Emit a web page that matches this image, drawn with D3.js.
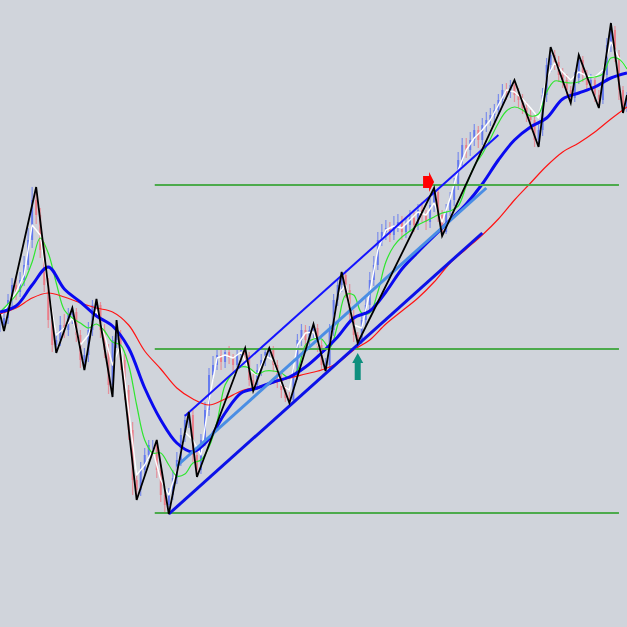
<html lang="en">
<head>
    <title>Trend channel</title>
    <meta charset="utf-8">
    <script src="https://d3js.org/d3.v7.min.js"></script>
    <style>
        html, body { margin: 0; padding: 0; background: #d0d4db; overflow: hidden; }
        svg { display: block; }
    </style>
</head>
<body>
<svg class="chart"></svg>
<script>
    'use strict';

    // closes, one per bar (bar 0 .. 156)
    var closes = [
        675, 682, 700, 715, 708, 720, 735, 760, 800, 785, 750, 715, 680, 655, 660, 675, 670, 685, 688, 665,
        640, 645, 670, 695, 695, 670, 650, 615, 660, 665, 640, 610, 570, 520, 510, 530, 545, 555, 555, 530,
        505, 495, 505, 522, 540, 565, 580, 585, 545, 530, 560, 590, 625, 635, 645, 638, 648, 642, 635, 645,
        650, 645, 620, 615, 630, 640, 648, 650, 635, 620, 610, 602, 600, 625, 660, 670, 660, 670, 672, 655,
        635, 635, 670, 700, 715, 725, 710, 685, 665, 660, 680, 695, 720, 735, 760, 768, 772, 765, 775, 778,
        768, 775, 782, 775, 790, 785, 778, 795, 808, 785, 768, 790, 800, 815, 840, 855, 850, 860, 870, 860,
        875, 880, 885, 890, 900, 910, 908, 915, 905, 900, 892, 885, 880, 860, 870, 905, 935, 945, 938, 925,
        920, 910, 902, 922, 940, 925, 915, 920, 905, 900, 925, 955, 970, 945, 910, 892, 900
    ];
    var highs = [
        684, 690, 706, 722, 724, 728, 744, 772, 813, 808, 792, 758, 722, 688, 668, 684, 686, 692, 694, 692,
        670, 652, 678, 700, 701, 698, 676, 656, 664, 680, 670, 646, 615, 578, 526, 538, 552, 560, 560, 560,
        536, 510, 512, 530, 548, 572, 586, 588, 590, 550, 566, 598, 632, 644, 652, 650, 652, 654, 646, 650,
        652, 652, 648, 626, 636, 646, 651, 652, 654, 640, 626, 614, 608, 632, 666, 676, 675, 674, 676, 676,
        660, 642, 676, 706, 722, 728, 730, 716, 690, 668, 686, 702, 728, 744, 768, 776, 780, 778, 784, 786,
        784, 782, 790, 788, 796, 798, 790, 802, 812, 810, 790, 796, 808, 822, 848, 862, 862, 868, 876, 874,
        882, 888, 892, 896, 906, 916, 917, 920, 920, 912, 906, 898, 890, 884, 876, 912, 942, 953, 950, 944,
        932, 926, 914, 928, 945, 944, 930, 926, 924, 910, 932, 962, 977, 974, 950, 914, 908
    ];
    var lows = [
        668, 670, 676, 694, 700, 703, 714, 730, 752, 776, 742, 708, 672, 648, 647, 654, 662, 664, 676, 658,
        632, 630, 638, 664, 686, 662, 642, 606, 603, 652, 630, 600, 560, 505, 500, 504, 524, 540, 546, 522,
        498, 488, 486, 500, 516, 534, 558, 572, 538, 523, 526, 554, 584, 620, 630, 630, 632, 636, 628, 630,
        638, 638, 614, 609, 610, 624, 634, 641, 628, 612, 602, 598, 597, 598, 620, 654, 652, 655, 662, 648,
        630, 629, 630, 664, 694, 708, 702, 678, 658, 657, 656, 674, 690, 714, 730, 754, 760, 758, 760, 768,
        760, 762, 768, 768, 770, 778, 770, 772, 788, 778, 764, 766, 784, 794, 810, 834, 842, 844, 854, 852,
        855, 868, 874, 878, 884, 894, 900, 902, 898, 892, 886, 878, 870, 853, 853, 864, 898, 928, 930, 918,
        912, 902, 897, 898, 916, 918, 908, 910, 898, 892, 896, 918, 948, 938, 900, 887, 888
    ];

    // moving averages, sampled every few bars
    var slowStep = 4;
    var redMA = [
        686, 692, 702, 707, 703, 697, 692, 688, 675, 649, 631, 612, 601, 595, 601, 609, 613, 617, 622, 626,
        630, 637, 650, 660, 676, 689, 702, 718, 737, 751, 765, 781, 800, 817, 834, 848, 857, 868, 881, 893
    ];
    var blueMA = [
        688, 694, 715, 733, 711, 698, 684, 674, 652, 612, 580, 557, 548, 561, 587, 607, 612, 618, 623, 633,
        647, 663, 682, 689, 708, 731, 748, 764, 780, 796, 816, 840, 860, 873, 882, 901, 907, 913, 922, 927
    ];

    var fastStep = 2;
    var greenMA = [
        688, 696, 705, 718, 738, 762, 747, 717, 690, 682, 677, 672, 676, 669, 658, 655, 635, 595, 560, 547,
        547, 535, 524, 526, 537, 540, 553, 578, 615, 627, 633, 632, 626, 629, 629, 627, 622, 630, 655, 661,
        661, 652, 675, 705, 705, 687, 687, 708, 738, 754, 763, 769, 775, 779, 783, 787, 789, 794, 814, 834,
        846, 861, 877, 889, 893, 890, 884, 886, 908, 919, 918, 917, 918, 922, 923, 926, 942, 941, 931
    ];
    var whiteMA = [
        682, 695, 708, 725, 775, 765, 710, 665, 672, 682, 655, 665, 690, 665, 635, 655, 590, 525, 535, 550,
        520, 505, 530, 568, 560, 545, 600, 642, 645, 642, 648, 630, 625, 644, 640, 615, 610, 655, 667, 668,
        645, 655, 705, 715, 675, 672, 708, 750, 770, 774, 772, 780, 788, 785, 797, 778, 802, 830, 850, 862,
        870, 880, 895, 910, 908, 901, 892, 882, 922, 937, 928, 920, 928, 924, 923, 930, 958, 942, 932
    ];

    // zigzag turning points [bar, price]
    var zigzag = [
        [0, 686], [1, 669], [9, 813], [14, 647], [18, 692], [21, 630], [24, 701], [28, 603], [29, 680],
        [34, 500], [39, 560], [42, 486], [47, 588], [49, 523], [61, 652], [63, 609], [67, 652], [72, 597],
        [78, 676], [81, 629], [85, 728], [89, 657], [108, 812], [110, 764], [128, 920], [134, 853],
        [137, 953], [142, 897], [144, 945], [149, 892], [152, 977], [155, 887], [156, 905]
    ];

    // channel lines [bar, price]
    var channelLower = [[42, 486], [120, 767]];
    var channelMid = [[44, 534], [121, 812]];
    var channelUpper = [[46, 584], [124, 865]];

    // horizontal levels
    var levels = [815, 651, 487];
    var levelSpan = [38.5, 154];

    // signals [bar, price]
    var sellSignal = [108, 818];
    var buySignal = [89, 647];

    var width = 627, height = 627;

    var svg = d3.select(".chart")
        .attr("width", width)
        .attr("height", height);

    svg.append("rect")
        .attr("width", width)
        .attr("height", height)
        .attr("fill", "#d0d4db");

    var x = d3.scaleLinear().domain([0, closes.length - 1]).range([0, width]);
    var y = d3.scaleLinear().domain([373, 1000]).range([height, 0]);

    // candles: open = previous close
    var bars = closes.map(function(c, i) {
        return {i: i, open: i > 0 ? closes[i - 1] : c, close: c, high: highs[i], low: lows[i]};
    });

    function barColor(d) {
        return d.close >= d.open ? "#5f75f0" : "#ec7a86";
    }

    var candles = svg.append("g").selectAll("g")
        .data(bars)
        .enter()
        .append("g")
            .attr("transform", function(d) { return "translate(" + x(d.i) + ",0)"; });

    candles.append("line")
        .attr("y1", function(d) { return y(d.high); })
        .attr("y2", function(d) { return y(d.low); })
        .attr("stroke", barColor)
        .attr("stroke-width", 1.2)
        .attr("stroke-opacity", 0.75);

    candles.append("line")
        .attr("y1", function(d) { return y(d.open); })
        .attr("y2", function(d) { return y(d.close); })
        .attr("stroke", barColor)
        .attr("stroke-width", 2)
        .attr("stroke-opacity", 0.9);

    function sampled(values, step) {
        return values.map(function(v, k) { return [k * step, v]; });
    }

    var smooth = d3.line()
        .x(function(d) { return x(d[0]); })
        .y(function(d) { return y(d[1]); })
        .curve(d3.curveCatmullRom);

    var straight = d3.line()
        .x(function(d) { return x(d[0]); })
        .y(function(d) { return y(d[1]); });

    function addPath(data, gen, color, w) {
        return svg.append("path")
            .attr("d", gen(data))
            .attr("fill", "none")
            .attr("stroke", color)
            .attr("stroke-width", w)
            .attr("stroke-linejoin", "round");
    }

    addPath(sampled(whiteMA, fastStep), straight, "#ffffff", 1.4);
    addPath(sampled(greenMA, fastStep), smooth, "#2ee62e", 1.2);
    addPath(sampled(redMA, slowStep), smooth, "#ff1414", 1.2);
    addPath(sampled(blueMA, slowStep), smooth, "#0a0af0", 3);

    svg.append("g").selectAll("line")
        .data(levels)
        .enter()
        .append("line")
            .attr("x1", x(levelSpan[0]))
            .attr("x2", x(levelSpan[1]))
            .attr("y1", function(d) { return y(d); })
            .attr("y2", function(d) { return y(d); })
            .attr("stroke", "#4caa4c")
            .attr("stroke-width", 2);

    addPath(channelMid, straight, "#4a8ee4", 3);
    addPath(channelLower, straight, "#0c12e8", 3);
    addPath(channelUpper, straight, "#1414ff", 2);

    addPath(zigzag, straight, "#000000", 1.8).attr("stroke-linejoin", "miter");

    // sell arrow, pointing right, tip at the signal
    svg.append("path")
        .attr("transform", "translate(" + x(sellSignal[0]) + "," + y(sellSignal[1]) + ")")
        .attr("d", "M-11,-6 L-5,-6 L-5,-10 L0,0 L-5,10 L-5,6 L-11,6 Z")
        .attr("fill", "#ff0000");

    // buy arrow, pointing up, tip at the signal
    svg.append("path")
        .attr("transform", "translate(" + x(buySignal[0]) + "," + y(buySignal[1]) + ")")
        .attr("d", "M0,0 L5.5,10 L3,10 L3,27 L-3,27 L-3,10 L-5.5,10 Z")
        .attr("fill", "#0e8f7e");
</script>
</body>
</html>
